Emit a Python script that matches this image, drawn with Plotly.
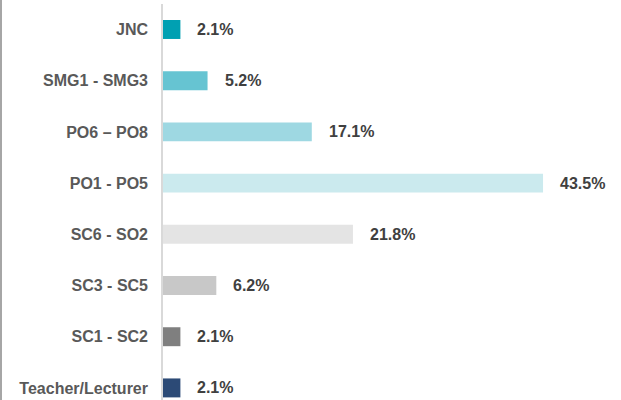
import plotly.graph_objects as go

categories = ["JNC", "SMG1 - SMG3", "PO6 – PO8", "PO1 - PO5",
              "SC6 - SO2", "SC3 - SC5", "SC1 - SC2", "Teacher/Lecturer"]
values = [2.1, 5.2, 17.1, 43.5, 21.8, 6.2, 2.1, 2.1]
value_labels = ["2.1%", "5.2%", "17.1%", "43.5%", "21.8%", "6.2%", "2.1%", "2.1%"]
colors = ["#00A0B2", "#66C4D2", "#9ED8E2", "#CBEAEE",
          "#E4E4E4", "#C8C8C8", "#7F7F7F", "#2C4A76"]

FONT = "Arial, 'Liberation Sans', sans-serif"

fig = go.Figure(go.Bar(
    x=values, y=categories, orientation="h",
    marker=dict(color=colors, line=dict(width=0)),
    width=0.37, hoverinfo="skip", cliponaxis=False,
))

for v, c, t in zip(values, categories, value_labels):
    fig.add_annotation(x=v, y=c, text=t, showarrow=False, xanchor="left",
                       xshift=15, font=dict(family=FONT, size=16, color="#404040", weight="bold"))

# vertical axis line and left border
fig.add_shape(type="line", xref="paper", yref="paper", x0=0, x1=0, y0=0, y1=0.99,
              line=dict(color="#D9D9D9", width=2), layer="above")
fig.add_shape(type="line", xref="paper", yref="paper", x0=-161/459, x1=-161/459, y0=0, y1=1,
              line=dict(color="#A6A6A6", width=2))

fig.update_layout(
    width=621, height=400,
    margin=dict(l=162, r=0, t=0, b=0, pad=0),
    paper_bgcolor="white", plot_bgcolor="white",
    showlegend=False,
    xaxis=dict(range=[0, 52.4], visible=False, showgrid=False, zeroline=False,
               automargin=False),
    yaxis=dict(type="category", categoryorder="array", categoryarray=categories,
               range=[7.236, -0.576], showgrid=False, zeroline=False, showline=False,
               ticks="", ticklabelstandoff=13, automargin=False,
               tickfont=dict(family=FONT, size=16, color="#595959", weight="bold")),
)

fig.write_html("out.html", config={"displayModeBar": False, "staticPlot": True},
               post_script="document.body.style.margin='0';document.body.style.overflow='hidden';")
